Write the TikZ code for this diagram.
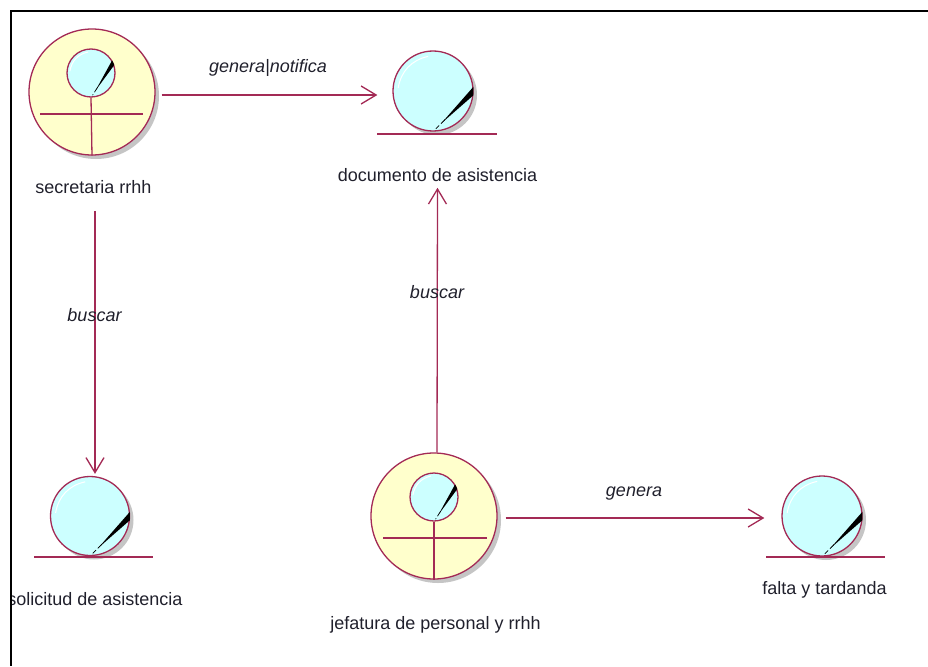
\documentclass[tikz,border=0pt]{standalone}
\usepackage{fontspec}
\setmainfont{Liberation Sans}
\usetikzlibrary{arrows.meta,calc,shadows}
\definecolor{rosered}{HTML}{A32A55}
\definecolor{rosecream}{HTML}{FFFFCC}
\definecolor{rosecyan}{HTML}{CCFFFF}
\definecolor{rosetext}{HTML}{20202C}
\tikzset{
    lens/.style={circle, draw=rosered, line width=1.3pt, fill=rosecyan, inner sep=0pt},
    shaded lens/.style={lens, drop shadow={shadow xshift=4pt, shadow yshift=-4pt, fill=black!45}},
    actor/.style={circle, draw=rosered, line width=1.3pt, fill=rosecream, inner sep=0pt, minimum size=126pt,
        drop shadow={shadow xshift=4pt, shadow yshift=-4pt, fill=black!45}},
    bar/.style={draw=rosered, line width=1.3pt},
    caption/.style={text=rosetext, font=\fontsize{18}{21}\selectfont, inner sep=0pt},
    link/.style={text=rosetext, font=\fontsize{18}{21}\selectfont\itshape, inner sep=0pt},
}
\newcommand{\lensmark}[3]{
    \draw[-, white, line width=1pt] ($(#1.center)!.86!(#1.175)$) to[bend left=34] ($(#1.center)!.86!(#1.98)$);
    \fill[black] (#1.#2+#3) -- (#1.#2-#3) -- ($(#1.#2)!.8!(#1.-90)$) -- cycle;
    \draw[-, black, line width=.7pt, dash pattern=on 6pt off 2.5pt] ($(#1.#2)!.7!(#1.-90)$) -- ($(#1.#2)!.93!(#1.-90)$);
}
\begin{document}
\begin{tikzpicture}[x=1pt, y=-1pt, ->, >={Straight Barb[length=15pt, width=18pt]}]
    \useasboundingbox (0,0) rectangle (928,666);
    % secretaria
    \node[actor] (secretaria) at (92,92) {};
    \node[lens, minimum size=48pt] (secretariahead) at (91,73) {};
    \lensmark{secretariahead}{25}{6}
    \draw[-, bar] (40,114) -- (143,114);
    \draw[-, bar] (secretariahead.south) -- (secretaria.south);
    \node[caption] (secretarialabel) at (93.5,187) {secretaria rrhh};
    % documento
    \node[shaded lens, minimum size=80pt] (documento) at (433,91) {};
    \lensmark{documento}{0}{6}
    \draw[-, bar] (377,134) -- (497,134);
    \node[caption] (documentolabel) at (437.5,175) {documento de asistencia};
    % solicitud
    \node[shaded lens, minimum size=79pt] (solicitud) at (90,516) {};
    \lensmark{solicitud}{0}{6}
    \draw[-, bar] (34,557) -- (153,557);
    \node[caption] (solicitudlabel) at (95,599.5) {solicitud de asistencia};
    % jefatura
    \node[actor] (jefatura) at (434,516) {};
    \node[lens, minimum size=48pt] (jefaturahead) at (434,497) {};
    \lensmark{jefaturahead}{25}{6}
    \draw[-, bar] (383,538) -- (487,538);
    \draw[-, bar] (jefaturahead.south) -- (jefatura.south);
    \node[caption] (jefaturalabel) at (435.5,625) {jefatura de personal y rrhh};
    % falta
    \node[shaded lens, minimum size=80pt] (falta) at (822,516) {};
    \lensmark{falta}{0}{6}
    \draw[-, bar] (766,557) -- (885,557);
    \node[caption] (faltalabel) at (824.5,590) {falta y tardanda};
    % links
    \path[line width=1.3pt, every edge/.append style={draw=rosered}]
        ([xshift=6pt, yshift=-3pt]secretaria.east) edge ([xshift=-15pt, yshift=-4pt]documento.west)
        ([xshift=1.5pt, yshift=-17pt]secretarialabel.south) edge ([xshift=5pt, yshift=2pt]solicitud.north)
        ([xshift=3pt]jefatura.north) edge ([yshift=-6pt]documentolabel.south)
        ([xshift=8pt, yshift=-2pt]jefatura.east) edge ([xshift=-17pt, yshift=-2pt]falta.west);
    \node[link] (generanotifica) at (268,68) {genera|notifica};
    \node[link] (buscarleft) at (94.5,315) {buscar};
    \node[link] (buscarright) at (437,292) {buscar};
    \node[link] (genera) at (634,494) {genera};
    % frame
    \fill[white] (0,0) rectangle (10,666);
    \draw[-, black, line width=2pt] (928,11.5) -- (10.5,11.5) -- (10.5,666);
\end{tikzpicture}
\end{document}
